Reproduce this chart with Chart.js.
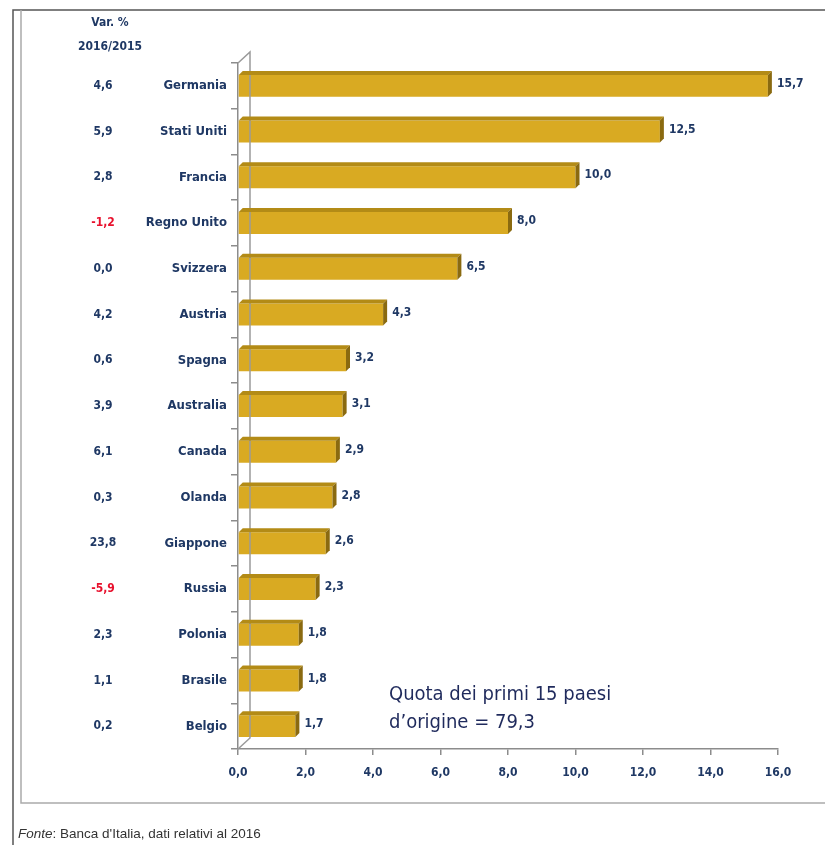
<!DOCTYPE html>
<html>
<head>
<meta charset="utf-8">
<script src="https://cdn.jsdelivr.net/npm/chart.js@4"></script>
<style>
  html, body { margin: 0; padding: 0; background: #fff; }
  #wrap { width: 825px; height: 845px; }
</style>
</head>
<body>
<div id="wrap"><canvas id="paesiChart" width="825" height="845"></canvas></div>
<script>
const paesi = ["Germania", "Stati Uniti", "Francia", "Regno Unito", "Svizzera", "Austria", "Spagna",
  "Australia", "Canada", "Olanda", "Giappone", "Russia", "Polonia", "Brasile", "Belgio"];
const quota2016 = [15.7, 12.5, 10.0, 8.0, 6.5, 4.3, 3.2, 3.1, 2.9, 2.8, 2.6, 2.3, 1.8, 1.8, 1.7];
const varPerc = [4.6, 5.9, 2.8, -1.2, 0.0, 4.2, 0.6, 3.9, 6.1, 0.3, 23.8, -5.9, 2.3, 1.1, 0.2];
const xTicks = [0, 2, 4, 6, 8, 10, 12, 14, 16];

const NAVY = "#1f3864";
const GOLD = "#d9aa22";
const NARROW = "'Liberation Sans Narrow', 'DejaVu Sans Condensed', 'Open Sans', sans-serif";
const DEPTH = 4;

// numeri all'italiana: 15,7
const fmt = v => v.toFixed(1).replace(".", ",");

const decorPlugin = {
  id: "decor",
  beforeDraw(chart) {
    const c = chart.ctx;
    c.save();
    c.fillStyle = "#fff";
    c.fillRect(0, 0, chart.width, chart.height);
    // cornice esterna
    c.strokeStyle = "#555";
    c.lineWidth = 1.5;
    c.beginPath();
    c.moveTo(13, 845); c.lineTo(13, 10); c.lineTo(825, 10);
    c.stroke();
    // cornice interna
    c.strokeStyle = "#aaa";
    c.lineWidth = 1.5;
    c.beginPath();
    c.moveTo(21, 10); c.lineTo(21, 803); c.lineTo(825, 803);
    c.stroke();
    c.restore();
  },
  afterDatasetsDraw(chart) {
    const c = chart.ctx;
    const area = chart.chartArea;
    const meta = chart.getDatasetMeta(0);
    c.save();

    // parete di fondo (effetto 3D)
    c.strokeStyle = "#9a9a9a";
    c.lineWidth = 1.5;
    c.beginPath();
    c.moveTo(area.left, area.top);
    c.lineTo(area.left + 12, area.top - 11);
    c.lineTo(area.left + 12, area.bottom - 11);
    c.lineTo(area.left, area.bottom);
    c.stroke();

    // facce superiori e laterali delle barre
    meta.data.forEach((bar, i) => {
      const x0 = bar.base, x1 = bar.x;
      const y0 = bar.y - bar.height / 2, y1 = bar.y + bar.height / 2;
      c.fillStyle = "#b38b16";
      c.beginPath();
      c.moveTo(x0, y0); c.lineTo(x0 + DEPTH, y0 - DEPTH);
      c.lineTo(x1 + DEPTH, y0 - DEPTH); c.lineTo(x1, y0);
      c.closePath(); c.fill();
      c.fillStyle = "#8a6a10";
      c.beginPath();
      c.moveTo(x1, y0); c.lineTo(x1 + DEPTH, y0 - DEPTH);
      c.lineTo(x1 + DEPTH, y1 - DEPTH); c.lineTo(x1, y1);
      c.closePath(); c.fill();

      // etichetta valore
      c.fillStyle = NAVY;
      c.font = "bold 12px " + NARROW;
      c.textAlign = "left";
      c.textBaseline = "middle";
      c.fillText(fmt(quota2016[i]), x1 + DEPTH + 5, bar.y - 2);

      // colonna Var. %
      c.fillStyle = varPerc[i] < 0 ? "#e8112d" : NAVY;
      c.textAlign = "center";
      c.fillText(fmt(varPerc[i]), 103, bar.y);
    });

    // intestazione colonna
    c.fillStyle = NAVY;
    c.font = "bold 12px " + NARROW;
    c.textAlign = "center";
    c.fillText("Var. %", 110, 23);
    c.fillText("2016/2015", 110, 47);

    // nota nel grafico
    c.font = "20px " + NARROW;
    c.textAlign = "left";
    c.fillStyle = "#1f2a5c";
    c.fillText("Quota dei primi 15 paesi", 389, 695);
    c.fillText("d\u2019origine = 79,3", 389, 723);

    // fonte
    c.fillStyle = "#333";
    c.font = "italic 13.5px 'Liberation Sans', Arial, sans-serif";
    c.fillText("Fonte", 18, 834);
    const w = c.measureText("Fonte").width;
    c.font = "13.5px 'Liberation Sans', Arial, sans-serif";
    c.fillText(": Banca d'Italia, dati relativi al 2016", 18 + w, 834);
    c.restore();
  }
};

new Chart(document.getElementById("paesiChart"), {
  type: "bar",
  data: {
    labels: paesi,
    datasets: [{
      data: quota2016,
      backgroundColor: GOLD,
      borderWidth: 0,
      categoryPercentage: 1,
      barPercentage: 0.48
    }]
  },
  options: {
    indexAxis: "y",
    responsive: false,
    animation: false,
    layout: { padding: { top: 63, right: 47, bottom: 0, left: 0 } },
    plugins: { legend: { display: false }, tooltip: { enabled: false } },
    scales: {
      x: {
        min: 0,
        max: 16,
        afterFit: s => { s.height = 845 - 749; },
        afterBuildTicks: s => { s.ticks = xTicks.map(v => ({ value: v })); },
        grid: { drawOnChartArea: false, drawTicks: true, tickLength: 6, color: "#8c8c8c", lineWidth: 1.5 },
        border: { display: true, color: "#8c8c8c", width: 1.5 },
        ticks: {
          padding: 11,
          color: NAVY,
          font: { family: NARROW, size: 12, weight: "bold" },
          callback: v => fmt(v)
        }
      },
      y: {
        afterFit: s => { s.width = 238; },
        grid: { drawOnChartArea: false, drawTicks: true, tickLength: 7, offset: true, color: "#8c8c8c", lineWidth: 1.5 },
        border: { display: true, color: "#8c8c8c", width: 1.5 },
        ticks: {
          padding: 4,
          color: NAVY,
          font: { family: NARROW, size: 13, weight: "bold" }
        }
      }
    }
  },
  plugins: [decorPlugin]
});
</script>
</body>
</html>
